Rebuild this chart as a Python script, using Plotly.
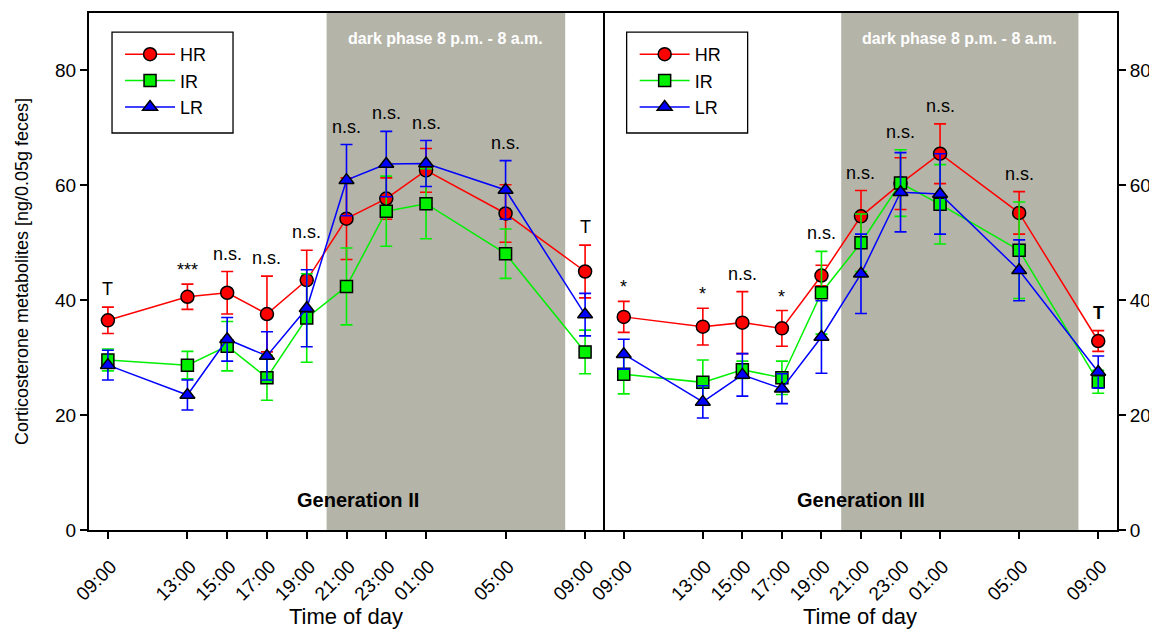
import plotly.graph_objects as go

# ---------------- data ----------------
hours = [9, 13, 15, 17, 19, 21, 23, 25, 29, 33]
tick_labels = ["09:00", "13:00", "15:00", "17:00", "19:00", "21:00", "23:00", "01:00", "05:00", "09:00"]
groups = ["HR", "IR", "LR"]

# Generation II
HR2 = [36.5, 40.6, 41.3, 37.6, 43.5, 54.2, 57.7, 62.6, 55.1, 45.0]
HR2_err = [2.3, 2.2, 3.7, 6.6, 5.2, 7.1, 3.6, 3.8, 5.0, 4.6]
IR2 = [29.6, 28.7, 32.0, 26.5, 36.9, 42.4, 55.5, 56.8, 48.1, 31.0]
IR2_err = [1.9, 2.4, 4.3, 3.9, 7.7, 6.7, 6.1, 6.1, 4.3, 3.8]
LR2 = [28.7, 23.5, 33.2, 30.3, 38.6, 60.9, 63.7, 63.8, 59.2, 37.5]
LR2_err = [2.6, 2.6, 3.8, 4.2, 6.7, 6.2, 5.7, 4.0, 5.1, 3.7]
labels2 = ["T", "***", "n.s.", "n.s.", "n.s.", "n.s.", "n.s.", "n.s.", "n.s.", "T"]

# Generation III
HR3 = [37.1, 35.4, 36.1, 35.1, 44.3, 54.6, 60.3, 65.5, 55.2, 32.9]
HR3_err = [2.7, 3.2, 5.4, 3.1, 1.8, 4.5, 4.5, 5.2, 3.7, 1.8]
IR3 = [27.1, 25.7, 27.9, 26.5, 41.3, 50.0, 60.4, 56.7, 48.7, 25.8]
IR3_err = [3.4, 3.9, 1.5, 2.9, 7.2, 5.0, 5.8, 6.9, 8.4, 2.0]
LR3 = [30.6, 22.3, 27.0, 24.6, 33.6, 44.6, 58.8, 58.5, 45.2, 27.5]
LR3_err = [2.6, 2.8, 3.7, 2.6, 6.3, 6.9, 6.9, 7.0, 5.3, 2.8]
labels3 = ["*", "*", "n.s.", "*", "n.s.", "n.s.", "n.s.", "n.s.", "n.s.", "<b>T</b>"]

dark_start, dark_end = 20, 32

# ---------------- styling ----------------
FONT = "Liberation Sans, Arial, sans-serif"
colors = {"HR": "#ff0000", "IR": "#00f000", "LR": "#0000ff"}
symbols = {"HR": "circle", "IR": "square", "LR": "triangle-up"}
msize = {"HR": 13, "IR": 12, "LR": 13}
DARK = "#b5b4a9"

fig = go.Figure()

panels = [
    ("x", "y", "legend", {"HR": (HR2, HR2_err), "IR": (IR2, IR2_err), "LR": (LR2, LR2_err)}, labels2),
    ("x2", "y2", "legend2", {"HR": (HR3, HR3_err), "IR": (IR3, IR3_err), "LR": (LR3, LR3_err)}, labels3),
]

for xa, ya, lg, data, labels in panels:
    for g in groups:
        vals, errs = data[g]
        fig.add_trace(go.Scatter(
            x=hours, y=vals, name=g, mode="lines+markers",
            xaxis=xa, yaxis=ya, showlegend=False,
            line=dict(color=colors[g], width=1.5),
            marker=dict(symbol=symbols[g], size=msize[g], color=colors[g],
                        line=dict(color="black", width=1.5)),
            error_y=dict(type="data", array=errs, visible=True, color=colors[g],
                         thickness=1.6, width=6),
        ))
    # legend-only entries (no error bars)
    for g in groups:
        fig.add_trace(go.Scatter(
            x=[None], y=[None], name=g, mode="lines+markers",
            xaxis=xa, yaxis=ya, legend=lg, showlegend=True,
            line=dict(color=colors[g], width=1.5),
            marker=dict(symbol=symbols[g], size=msize[g], color=colors[g],
                        line=dict(color="black", width=1.5)),
        ))
    # significance labels above highest error bar
    for i, lab in enumerate(labels):
        top = max(data[g][0][i] + data[g][1][i] for g in groups)
        ys = 2 if "*" in lab else 6
        fig.add_annotation(x=hours[i], y=top, xref=xa, yref=ya, text=lab,
                           showarrow=False, yanchor="bottom", yshift=ys,
                           font=dict(family=FONT, size=18, color="black"))
    # dark phase
    fig.add_shape(type="rect", xref=xa, yref=ya, x0=dark_start, x1=dark_end, y0=0, y1=90,
                  fillcolor=DARK, line=dict(width=0), layer="below")
    fig.add_annotation(x=(dark_start + dark_end) / 2, y=85.6, xref=xa, yref=ya,
                       text="<b>dark phase 8 p.m. - 8 a.m.</b>", showarrow=False,
                       font=dict(family=FONT, size=16, color="white"))

fig.add_annotation(x=21.6, y=5.2, xref="x", yref="y", text="<b>Generation II</b>",
                   showarrow=False, font=dict(family=FONT, size=20, color="black"))
fig.add_annotation(x=21.0, y=5.2, xref="x2", yref="y2", text="<b>Generation III</b>",
                   showarrow=False, font=dict(family=FONT, size=20, color="black"))

# legend frames (boxes around each panel's key)
for x0 in (0.0224, 0.523):
    fig.add_shape(type="rect", xref="paper", yref="paper",
                  x0=x0, x1=x0 + 0.1177, y0=0.7679, y1=0.9632,
                  line=dict(color="black", width=1.3), fillcolor="white", layer="above")

axis_common = dict(
    showline=True, linecolor="black", linewidth=2, ticks="outside", tickcolor="black",
    tickwidth=2, ticklen=7, showgrid=False, zeroline=False, automargin=False,
    tickfont=dict(family=FONT, size=19, color="black"),
)

xcommon = dict(axis_common, tickmode="array", tickvals=hours, ticktext=tick_labels,
               tickangle=-45, mirror=True, ticklabelstandoff=9, ticklabelshift=3,
               title=dict(text="Time of day", font=dict(family=FONT, size=22, color="black"),
                          standoff=0))

legend_common = dict(borderwidth=0, bgcolor="rgba(0,0,0,0)",
                     font=dict(family=FONT, size=18, color="black"),
                     xanchor="left", yanchor="top", tracegroupgap=0,
                     itemwidth=50)

# page body has an 8px default margin, so the figure is offset by 8px
fig.update_layout(
    template="none",
    width=1149, height=624,
    margin=dict(l=81, r=40, t=5, b=102),
    paper_bgcolor="white", plot_bgcolor="white",
    showlegend=True,
    xaxis=dict(xcommon, domain=[0, 0.5], range=[8.05, 33.9], anchor="y"),
    xaxis2=dict(xcommon, domain=[0.5, 1], range=[7.95, 33.95], anchor="y2"),
    yaxis=dict(axis_common, range=[0, 90], tickvals=[0, 20, 40, 60, 80], anchor="x",
               mirror=True,
               title=dict(text="Corticosterone metabolites [ng/0.05g feces]",
                          font=dict(family=FONT, size=18, color="black"), standoff=22)),
    yaxis2=dict(axis_common, range=[0, 90], tickvals=[0, 20, 40, 60, 80], anchor="x2",
                side="right"),
    legend=dict(legend_common, x=0.0302, y=0.9555),
    legend2=dict(legend_common, x=0.5308, y=0.9555),
)

fig.write_html("out.html")
